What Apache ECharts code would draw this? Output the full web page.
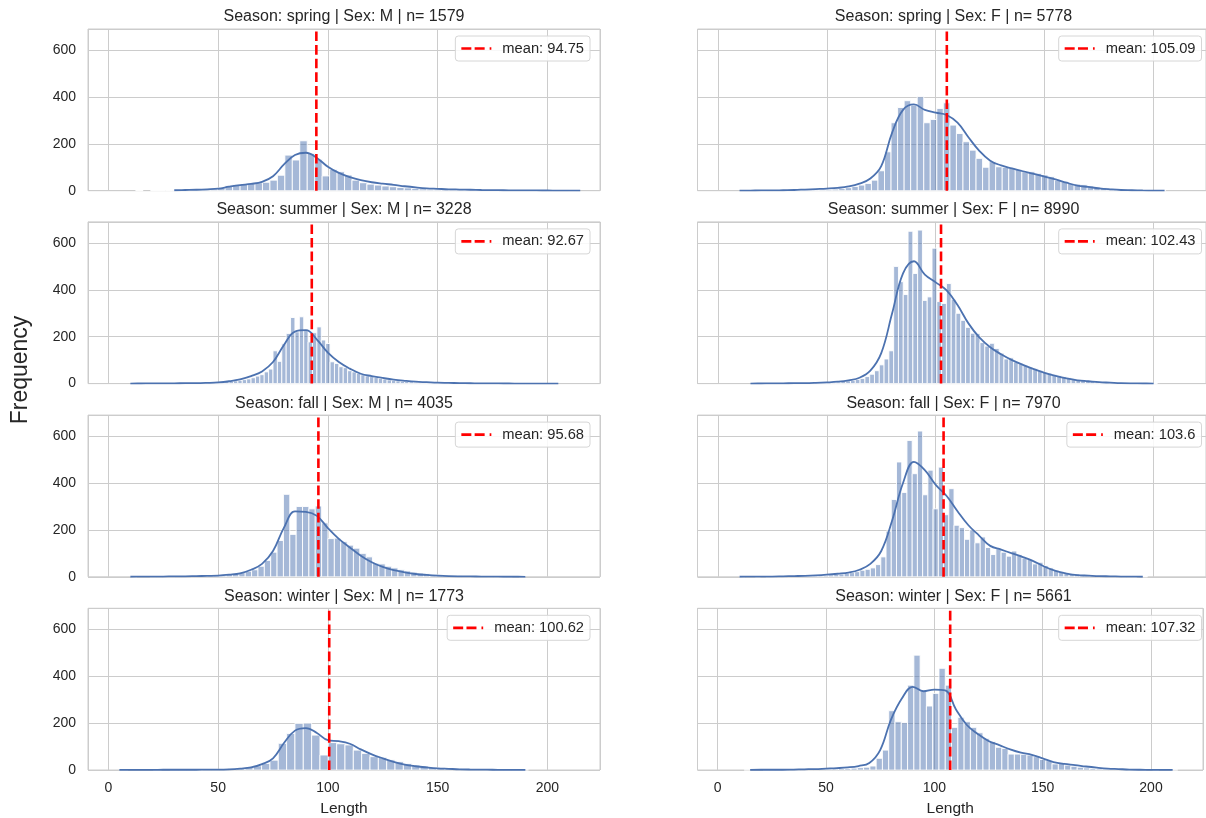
<!DOCTYPE html>
<html><head><meta charset="utf-8">
<script src="https://cdn.jsdelivr.net/npm/echarts@6/dist/echarts.min.js"></script>
<style>html,body{margin:0;padding:0;background:#fff}#c{width:1206px;height:818px}</style>
</head><body><div id="c"></div><script>
// ---------------- data ----------------
const seasons = ['spring', 'summer', 'fall', 'winter'];
const sexes = ['M', 'F'];
const sampleSizes = [1579, 5778, 3228, 8990, 4035, 7970, 1773, 5661];
const meanLengths = [94.75, 105.09, 92.67, 102.43, 95.68, 103.6, 100.62, 107.32];
const binStarts = [12.4, 19.5, 29, 27.9, 10.15, 10.0, 5.2, 12.25];
const binWidths = [3.4, 3.0, 2.0, 2.2, 2.9, 2.4, 3.8, 2.9];
const xTickLabels = [0, 50, 100, 150, 200];
const yTickLabels = [0, 200, 400, 600];

const countsSpringM = [1,0,1,1,1,2,2,3,4,5,7,
  12,22,26,28,30,34,36,45,66,152,131,213,159,134,63,91,81,67,45,34,28,24,20,17,14,12,10,8,6,
  6,5,5,4,3,3,2,2,2,1,1,1,1,1,0,1,0,0,1];
const countsSpringF = [1,0,1,1,1,2,2,3,3,4,5,7,9,13,18,
  24,31,45,85,166,290,355,384,365,401,290,304,351,375,280,244,209,173,138,100,124,102,100,95,91,81,81,74,67,60,45,38,31,
  28,25,20,16,12,9,7,5,4,3,2,1,1,1];
const countsSummerM = [1,0,1,1,1,2,2,3,3,4,
  5,7,9,10,12,14,17,20,25,32,38,50,62,140,95,170,214,282,221,285,228,178,217,242,186,171,93,86,72,68,55,50,44,38,33,30,26,22,19,16,14,12,10,9,8,6,5,4,4,3,3,
  3,2,2,2,1,1,1,1,1,0,1,0,1,0,0,1,0,0,0,1];
const countsSummerF = [1,0,1,1,1,2,2,3,3,4,5,6,7,9,
  12,14,18,22,30,40,55,80,105,140,500,435,380,650,470,655,355,370,578,350,
  342,427,360,300,270,240,215,214,175,160,172,150,130,105,110,92,85,78,70,65,
  55,48,45,38,34,30,25,20,18,15,12,10,8,6,5,4,3,2,
  2,1,1,1,1,0,1];
const countsFallM = [1,0,0,1,1,1,1,2,2,2,3,3,4,5,7,10,
  14,18,24,30,45,70,105,155,352,181,300,300,290,302,230,163,165,150,135,122,100,85,58,55,45,38,30,25,20,16,13,10,8,6,5,4,3,3,2,2,
  1,1,1,1,0,1];
const countsFallF = [1,0,0,1,0,1,1,1,1,2,2,2,3,3,4,5,6,8,10,12,
  15,18,22,28,32,38,52,85,195,330,490,360,582,440,622,350,455,290,468,265,
  376,220,210,160,200,145,170,125,95,120,105,88,110,95,80,75,55,62,48,38,
  28,22,18,14,12,10,8,6,5,4,3,
  2,2,1,1,1,0,1];
const countsWinterM = [1,0,0,0,1,0,1,1,1,1,2,
  3,4,6,8,12,18,28,42,114,156,199,200,149,64,117,112,107,85,71,57,54,43,36,28,21,17,11,9,7,5,4,3,2,2,1,1,1,
  1];
const countsWinterF = [1,0,0,1,1,1,1,2,2,2,3,3,4,
  4,5,6,7,8,10,12,17,50,85,253,206,202,362,490,338,273,327,434,362,
  182,225,206,182,159,135,121,97,92,68,68,67,64,57,45,40,26,31,21,16,
  12,9,7,5,4,3,2,2,1,
  1,1,0,1,0,0,1];

const kdeX = [5,10,15,20,25,30,35,40,45,50,55,60,65,70,75,80,85,90,95,100,105,110,115,120,125,130,135,140,145,150,155,160,165,170,175,180,185,190,195,200,205,210,215];
const kdeSpringM = [null,null,null,null,null,2,3,4,6,9,17,24,29,38,62,112,152,162,140,102,76,58,45,36,30,25,19,14,10,8,6,5,4,3,2.5,2,1.5,1,1,0.8,0.5,0.3,0.2];
const kdeSpringF = [null,0.3,0.5,1,1,2,3,5,7,9,12,18,30,52,105,248,345,368,345,333,323,290,228,170,128,108,95,83,72,60,48,34,22,16,10,6,3,2,1,0.5,0.3,null,null];
const kdeSummerM = [null,0.2,0.5,1,1,1,2,2,3,5,10,18,32,52,92,165,222,228,188,132,92,64,42,32,24,17,12,8,6,4,3,2,1.5,1,1,0.5,0.3,0.2,0.1,0.1,0.1,null,null];
const kdeSummerF = [null,null,0.3,0.5,1,1,2,2,3,5,8,14,25,55,130,300,470,522,465,432,398,335,257,197,155,125,100,80,62,46,33,22,14,10,6,4,2,1,0.5,0.3,null,null,null];
const kdeFallM = [null,0.3,0.5,1,1,2,2,3,4,5,9,15,30,55,110,210,279,277,260,208,162,125,90,62,42,28,19,12,8,5,3,2,1.5,1,0.5,0.3,0.2,0.1,null,null,null,null,null];
const kdeFallF = [null,0.2,0.5,1,1,2,3,4,6,9,13,18,30,55,110,240,400,490,455,392,345,280,220,175,132,116,100,84,66,43,25,14,7,5,3,2,1,0.5,0.3,null,null,null,null];
const kdeWinterM = [0.3,0.5,0.5,0.5,1,1,1,1,2,2,3,6,11,25,50,115,168,179,158,127,123,112,88,67,50,35,23,16,11,7,5,3,2,1.5,1,0.5,0.3,0.2,null,null,null,null,null];
const kdeWinterF = [null,null,0.5,1,1,1,2,3,4,6,8,11,17,30,85,215,305,355,336,343,340,258,192,154,124,106,88,74,65,50,34,26,21,15,10,6,4,2,1,0.5,0.3,0.2,null];

const countsList = [countsSpringM, countsSpringF, countsSummerM, countsSummerF, countsFallM, countsFallF, countsWinterM, countsWinterF];
const kdeList = [kdeSpringM, kdeSpringF, kdeSummerM, kdeSummerF, kdeFallM, kdeFallF, kdeWinterM, kdeWinterF];

// ---------------- layout / style ----------------
const X_MIN = -9.3, X_MAX = 224, Y_MAX = 690;
const gridLefts = [88, 697.5];
const gridTops = [29, 221.9, 415.1, 608.3];
const GRID_W = 512, GRID_H = 161.7;
const legendRights = [616, 4.5];
const TEXT = '#262626';
const GRIDC = '#cccccc';
const FONT = '"Liberation Sans", Arial, sans-serif';
const BAR_FILL = 'rgba(76,114,176,0.5)';
const LINE_C = '#4c72b0';
const DASH_ICON = 'path://M0,0h10v2.7h-10zM13.3,0h10v2.7h-10zM28.3,0h1.7v2.7h-1.7z';

const grids = [], xAxes = [], yAxes = [], series = [], legends = [], graphics = [];

for (let i = 0; i < 8; i++) {
  const row = Math.floor(i / 2), col = i % 2;
  const left = gridLefts[col], top = gridTops[row];
  grids.push({left: left, top: top, width: GRID_W, height: GRID_H, show: true,
    borderColor: GRIDC, borderWidth: 1, backgroundColor: 'transparent'});
  xAxes.push({type: 'value', gridIndex: i, min: X_MIN, max: X_MAX, splitNumber: 5,
    axisLine: {show: false}, axisTick: {show: false},
    splitLine: {show: true, lineStyle: {color: GRIDC, width: 1}},
    axisLabel: {show: row === 3, color: TEXT, fontSize: 14, fontFamily: FONT, margin: 11,
      formatter: v => xTickLabels.includes(v) ? String(v) : ''},
    name: row === 3 ? 'Length' : '', nameLocation: 'middle', nameGap: 31,
    nameTextStyle: {color: TEXT, fontSize: 15.5, fontFamily: FONT}});
  yAxes.push({type: 'value', gridIndex: i, min: 0, max: Y_MAX, interval: 200,
    axisLine: {show: false}, axisTick: {show: false},
    splitLine: {show: true, lineStyle: {color: GRIDC, width: 1}},
    axisLabel: {show: col === 0, color: TEXT, fontSize: 14, fontFamily: FONT, margin: 12,
      formatter: v => yTickLabels.includes(v) ? String(v) : ''}});

  const start = binStarts[i], w = binWidths[i];
  const histData = countsList[i].map((c, k) => [start + k * w, start + (k + 1) * w, c]);
  series.push({type: 'custom', xAxisIndex: i, yAxisIndex: i, z: 2, silent: true,
    encode: {x: [0, 1], y: 2},
    data: histData,
    renderItem: (params, api) => {
      const c = api.value(2);
      if (!c) return null;
      const p0 = api.coord([api.value(0), c]);
      const p1 = api.coord([api.value(1), 0]);
      return {type: 'rect', shape: {x: p0[0], y: p0[1], width: p1[0] - p0[0], height: p1[1] - p0[1]},
        style: {fill: BAR_FILL, stroke: '#ffffff', lineWidth: 0.9}};
    }});
  const kdeData = [];
  kdeX.forEach((x, k) => { if (kdeList[i][k] !== null) kdeData.push([x, kdeList[i][k]]); });
  series.push({type: 'line', xAxisIndex: i, yAxisIndex: i, z: 3, silent: true,
    data: kdeData, smooth: 0.4, showSymbol: false, symbol: 'none',
    lineStyle: {color: LINE_C, width: 1.8}});
  const m = meanLengths[i];
  const mname = 'mean: ' + m;
  series.push({type: 'line', name: mname, xAxisIndex: i, yAxisIndex: i, z: 4, silent: true,
    data: [[m, 0], [m, Y_MAX]], symbol: 'none', showSymbol: false, color: '#ff0000',
    lineStyle: {color: '#ff0000', width: 2.6, type: [9.6, 4]}});
  legends.push({data: [{name: mname, icon: DASH_ICON}], top: top + 7, right: legendRights[col],
    orient: 'horizontal', selectedMode: false, symbolKeepAspect: true,
    itemWidth: 30, itemHeight: 16, itemGap: 6,
    padding: [5, 6, 5, 6], backgroundColor: 'rgba(255,255,255,0.85)',
    borderColor: '#d6d6d6', borderWidth: 1, borderRadius: 3,
    itemStyle: {color: '#ff0000'},
    textStyle: {color: TEXT, fontSize: 14.7, fontFamily: FONT, padding: [0, 0, 0, 6]}});
  graphics.push({type: 'text', x: left + GRID_W / 2, y: top - 12,
    style: {text: 'Season: ' + seasons[row] + ' | Sex: ' + sexes[col] + ' | n= ' + sampleSizes[i],
      textAlign: 'center', textVerticalAlign: 'middle', fill: TEXT, font: '16px ' + FONT}});
}
graphics.push({type: 'text', x: 21, y: 370, rotation: Math.PI / 2,
  style: {text: 'Frequency', textAlign: 'center', textVerticalAlign: 'middle', fill: TEXT, font: '23px ' + FONT}});

const chart = echarts.init(document.getElementById('c'));
chart.setOption({
  animation: false,
  backgroundColor: '#ffffff',
  grid: grids, xAxis: xAxes, yAxis: yAxes, series: series, legend: legends, graphic: graphics
});
</script></body></html>
